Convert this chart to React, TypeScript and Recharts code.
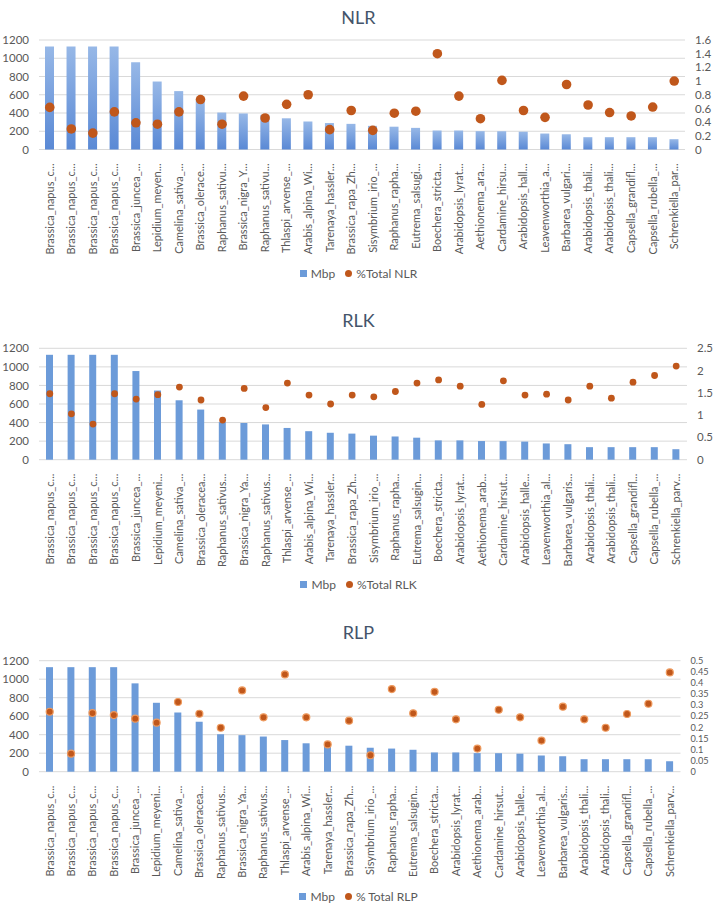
import { Bar, CartesianGrid, ComposedChart, Line, XAxis, YAxis } from "recharts";

const nlrLabels = [
  "Brassica_napus_c...", "Brassica_napus_c...", "Brassica_napus_c...", "Brassica_napus_c...",
  "Brassica_juncea_...", "Lepidium_meyen...", "Camelina_sativa_...", "Brassica_olerace...",
  "Raphanus_sativu...", "Brassica_nigra_Y...", "Raphanus_sativu...", "Thlaspi_arvense_...",
  "Arabis_alpina_Wi...", "Tarenaya_hassler...", "Brassica_rapa_Zh...", "Sisymbrium_irio_...",
  "Raphanus_rapha...", "Eutrema_salsugi...", "Boechera_stricta...", "Arabidopsis_lyrat...",
  "Aethionema_ara...", "Cardamine_hirsu...", "Arabidopsis_hall...", "Leavenworthia_a...",
  "Barbarea_vulgari...", "Arabidopsis_thali...", "Arabidopsis_thali...", "Capsella_grandifl...",
  "Capsella_rubella_...", "Schrenkiella_par...",
];

const rlLabels = [
  "Brassica_napus_c...", "Brassica_napus_c...", "Brassica_napus_c...", "Brassica_napus_c...",
  "Brassica_juncea_...", "Lepidium_meyeni...", "Camelina_sativa_...", "Brassica_oleracea...",
  "Raphanus_sativus...", "Brassica_nigra_Ya...", "Raphanus_sativus...", "Thlaspi_arvense_...",
  "Arabis_alpina_Wi...", "Tarenaya_hassler...", "Brassica_rapa_Zh...", "Sisymbrium_irio_...",
  "Raphanus_rapha...", "Eutrema_salsugin...", "Boechera_stricta...", "Arabidopsis_lyrat...",
  "Aethionema_arab...", "Cardamine_hirsut...", "Arabidopsis_halle...", "Leavenworthia_al...",
  "Barbarea_vulgaris...", "Arabidopsis_thali...", "Arabidopsis_thali...", "Capsella_grandifl...",
  "Capsella_rubella_...", "Schrenkiella_parv...",
];

const mbp = [
  1130, 1130, 1130, 1130, 955, 745, 640, 540, 405, 395, 380, 342, 307, 290, 281,
  259, 250, 237, 208, 208, 201, 200, 195, 175, 167, 135, 135, 135, 135, 113,
];

const nlrPct = [
  0.615, 0.3, 0.24, 0.55, 0.39, 0.37, 0.55, 0.73, 0.37, 0.78, 0.46, 0.66, 0.8, 0.29, 0.57,
  0.28, 0.53, 0.56, 1.4, 0.78, 0.45, 1.01, 0.57, 0.47, 0.95, 0.65, 0.54, 0.49, 0.62, 1.0,
];

const rlkPct = [
  1.48, 1.03, 0.8, 1.48, 1.36, 1.46, 1.63, 1.34, 0.89, 1.6, 1.17, 1.72, 1.45, 1.25, 1.45,
  1.41, 1.53, 1.72, 1.79, 1.65, 1.24, 1.77, 1.45, 1.47, 1.34, 1.65, 1.38, 1.74, 1.89, 2.1,
];

const rlpPct = [
  0.27, 0.081, 0.264, 0.255, 0.239, 0.221, 0.314, 0.261, 0.198, 0.366, 0.245, 0.438, 0.245, 0.123, 0.23,
  0.074, 0.372, 0.263, 0.36, 0.236, 0.104, 0.279, 0.245, 0.14, 0.293, 0.236, 0.198, 0.26, 0.306, 0.447,
];

const mbpTicks = [0, 200, 400, 600, 800, 1000, 1200];
const nlrTicks = [0, 0.2, 0.4, 0.6, 0.8, 1, 1.2, 1.4, 1.6];
const rlkTicks = [0, 0.5, 1, 1.5, 2, 2.5];
const rlpTicks = [0, 0.05, 0.1, 0.15, 0.2, 0.25, 0.3, 0.35, 0.4, 0.45, 0.5];

const FONT = "Lato, 'Open Sans', sans-serif";
const TEXT = "#595959";
const DOT = "#C0571B";

type Panel = {
  title: string;
  legend: string;
  labels: string[];
  pct: number[];
  ticks: number[];
  top: number;
  marginTop: number;
  plotHeight: number;
  rightWidth: number;
  rightFont: number;
  barSize: number;
  barFill: string;
  dotR: number;
  halo?: boolean;
  titleY: number;
  legendY: number;
};

const panels: Panel[] = [
  {
    title: "NLR", legend: "%Total NLR", labels: nlrLabels, pct: nlrPct, ticks: nlrTicks,
    top: 0, marginTop: 40, plotHeight: 109.5, rightWidth: 32, rightFont: 11.5, barSize: 9,
    barFill: "url(#nlrGrad)", dotR: 4.8, titleY: 17, legendY: 273,
  },
  {
    title: "RLK", legend: "%Total RLK", labels: rlLabels, pct: rlkPct, ticks: rlkTicks,
    top: 300, marginTop: 48.3, plotHeight: 111.4, rightWidth: 30, rightFont: 11.5, barSize: 7,
    barFill: "#6c9bd9", dotR: 3.4, titleY: 320, legendY: 584,
  },
  {
    title: "RLP", legend: "% Total RLP", labels: rlLabels, pct: rlpPct, ticks: rlpTicks,
    top: 610, marginTop: 50.7, plotHeight: 111, rightWidth: 36.5, rightFont: 9.2, barSize: 7,
    barFill: "#6c9bd9", dotR: 3.5, halo: true, titleY: 632, legendY: 896,
  },
];

const X_AXIS_H = 110;

function CategoryTick({ x, y, payload, labels }: any) {
  const ty = y + 6;
  return (
    <text
      x={x}
      y={ty}
      dy="0.35em"
      transform={`rotate(-90 ${x} ${ty})`}
      textAnchor="end"
      fontSize={11}
      fontFamily={FONT}
      fill={TEXT}
    >
      {labels[payload.value]}
    </text>
  );
}

function fmt(v: number) {
  return String(Number(v.toFixed(2)));
}

function ChartPanel({ p }: { p: Panel }) {
  const data = mbp.map((m, i) => ({ i, mbp: m, pct: p.pct[i] }));
  const height = p.marginTop + p.plotHeight + X_AXIS_H;
  const Dot = (props: any) => {
    const { cx, cy } = props;
    if (cx == null || cy == null) return null;
    return (
      <circle
        key={props.index}
        cx={cx}
        cy={cy}
        r={p.dotR}
        fill={DOT}
        stroke={p.halo ? "#ee9a5e" : "none"}
        strokeWidth={p.halo ? 1.2 : 0}
      />
    );
  };
  return (
    <>
      <div
        style={{
          position: "absolute", left: 0, width: 717, top: p.titleY - 12, textAlign: "center",
          fontFamily: FONT, fontSize: 18, lineHeight: "24px", color: "#44546A",
        }}
      >
        {p.title}
      </div>
      <div style={{ position: "absolute", left: 0, top: p.top }}>
        <ComposedChart
          width={717}
          height={height}
          data={data}
          margin={{ top: p.marginTop, right: 0, bottom: 0, left: 0 }}
          barCategoryGap="20%"
        >
          <defs>
            <linearGradient id="nlrGrad" x1="0" x2="0" y1="0" y2="1">
              <stop offset="0%" stopColor="#97b8e7" />
              <stop offset="100%" stopColor="#5a89d5" />
            </linearGradient>
          </defs>
          <CartesianGrid yAxisId="left" vertical={false} stroke="#d9d9d9" />
          <XAxis
            dataKey="i"
            height={X_AXIS_H}
            interval={0}
            axisLine={false}
            tickLine={false}
            tick={<CategoryTick labels={p.labels} />}
          />
          <YAxis
            yAxisId="left"
            width={39}
            domain={[0, 1200]}
            ticks={mbpTicks}
            interval={0}
            axisLine={false}
            tickLine={false}
            tickMargin={4}
            tick={{ fontSize: 11.5, fontFamily: FONT, fill: TEXT }}
          />
          <YAxis
            yAxisId="right"
            orientation="right"
            width={p.rightWidth}
            domain={[0, p.ticks[p.ticks.length - 1]]}
            ticks={p.ticks}
            interval={0}
            tickFormatter={fmt}
            axisLine={false}
            tickLine={false}
            tickMargin={4}
            tick={{ fontSize: p.rightFont, fontFamily: FONT, fill: TEXT, textAnchor: "start" }}
          />
          <Bar yAxisId="left" dataKey="mbp" fill={p.barFill} barSize={p.barSize} isAnimationActive={false} />
          <Line
            yAxisId="right"
            dataKey="pct"
            stroke="none"
            dot={Dot}
            activeDot={false}
            isAnimationActive={false}
          />
        </ComposedChart>
      </div>
      <div
        style={{
          position: "absolute", left: 0, width: 717, top: p.legendY - 9, height: 18,
          display: "flex", justifyContent: "center", alignItems: "center",
          fontFamily: FONT, fontSize: 12, color: TEXT, whiteSpace: "nowrap",
        }}
      >
        <span style={{ display: "inline-block", width: 7, height: 7, background: "#6c9bd9", marginRight: 4 }} />
        <span style={{ marginRight: 10 }}>Mbp</span>
        <span style={{ display: "inline-block", width: 7, height: 7, borderRadius: "50%", background: DOT, marginRight: 4 }} />
        <span>{p.legend}</span>
      </div>
    </>
  );
}

export default function App() {
  return (
    <div style={{ position: "absolute", left: 0, top: 0, width: 717, height: 904, background: "#fff", overflow: "hidden" }}>
      {panels.map((p) => (
        <ChartPanel key={p.title} p={p} />
      ))}
    </div>
  );
}
